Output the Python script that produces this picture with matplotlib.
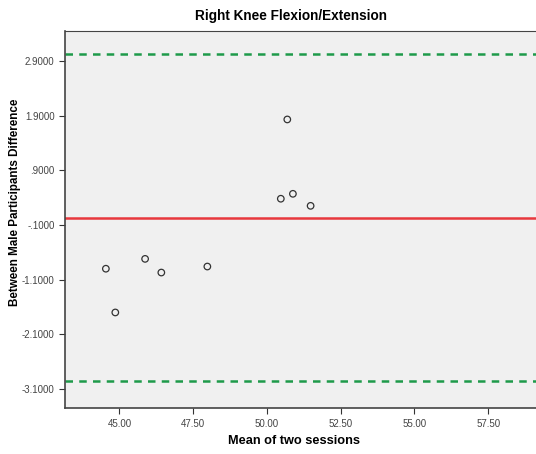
import matplotlib
matplotlib.use("Agg")
import matplotlib.pyplot as plt

plt.rcParams["font.family"] = ["Liberation Sans", "DejaVu Sans"]

# Bland-Altman data
mean_sessions = [44.54, 44.86, 45.87, 46.42, 47.98, 50.47, 50.69, 50.88, 51.48]
difference = [-0.90, -1.70, -0.72, -0.97, -0.86, 0.38, 1.83, 0.47, 0.25]
mean_diff = 0.03
upper_loa = 3.03
lower_loa = -2.95

xticks = [45.0, 47.5, 50.0, 52.5, 55.0, 57.5]
yticks = [2.9, 1.9, 0.9, -0.1, -1.1, -2.1, -3.1]
ytick_labels = ["2.9000", "1.9000", ".9000", "-.1000", "-1.1000", "-2.1000", "-3.1000"]

fig = plt.figure(figsize=(5.36, 4.54), dpi=100)
ax = fig.add_axes([0.121, 0.101, 0.879, 0.831])
ax.set_facecolor("#f0f0f0")

ax.axhline(mean_diff, color="#e8383d", lw=1.8)
ax.axhline(upper_loa, color="#1e9a4a", lw=1.8, ls=(0, (3, 2.5)))
ax.axhline(lower_loa, color="#1e9a4a", lw=1.8, ls=(0, (3, 2.5)))
ax.scatter(mean_sessions, difference, s=22, facecolors="none",
           edgecolors="#333333", linewidths=0.9, zorder=3)

ax.set_xlim(43.15, 59.12)
ax.set_ylim(-3.45, 3.45)
ax.set_xticks(xticks)
ax.set_xticklabels([f"{v:.2f}" for v in xticks])
ax.set_yticks(yticks)
ax.set_yticklabels(ytick_labels)
ax.tick_params(labelsize=7, labelcolor="#444444", length=4, color="#333333")

for side in ["left", "bottom"]:
    ax.spines[side].set_color("#444444")
    ax.spines[side].set_linewidth(1.2)
ax.spines["top"].set_color("#444444")
ax.spines["right"].set_visible(False)

# SPSS output is slightly cropped on the right, so labels sit left of the axes centre
fig.text(291 / 536, 1 - 16 / 454, "Right Knee Flexion/Extension", ha="center",
         va="center", fontsize=9.8, fontweight="bold")
fig.text(294 / 536, 1 - 441 / 454, "Mean of two sessions", ha="center",
         va="center", fontsize=9.2, fontweight="bold")
fig.text(0.028, 1 - 202 / 454, "Between Male Participants Difference", rotation=90,
         ha="center", va="center", fontsize=8.4, fontweight="bold")

fig.savefig("out.png", dpi=100)
